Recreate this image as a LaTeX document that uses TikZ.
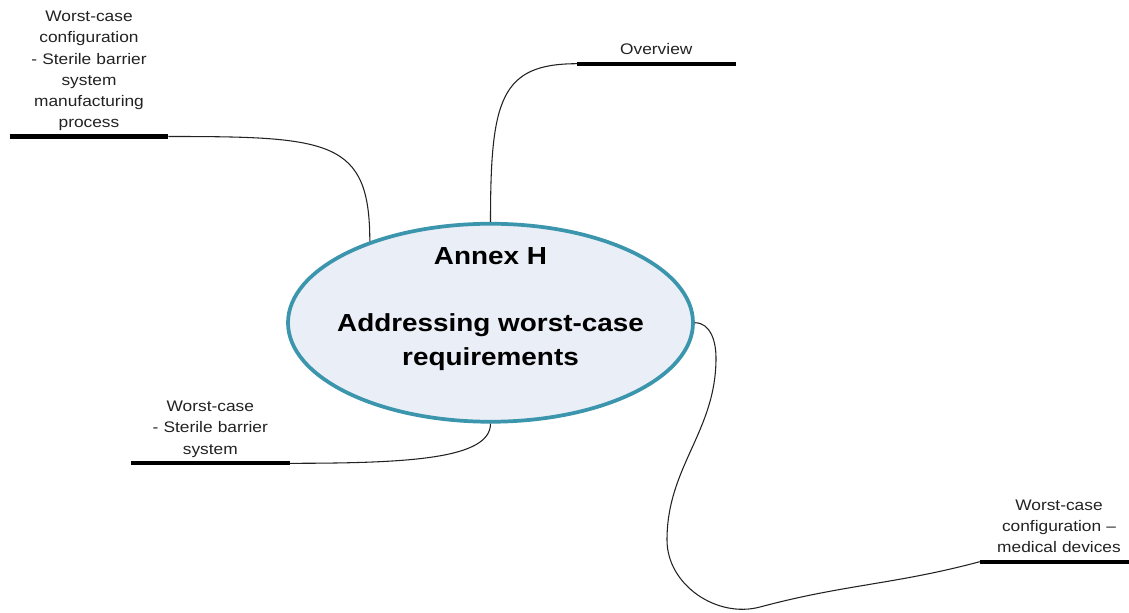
\documentclass[tikz,border=0pt]{standalone}
\usepackage{fontspec}
\usepackage{xcolor}
\usetikzlibrary{shapes.geometric}
\newfontfamily\mapfont{Liberation Sans}[FakeStretch=1.13]
\definecolor{dTeal}{HTML}{3A95AD}
\definecolor{dFill}{HTML}{E9EEF7}
\definecolor{dInk}{HTML}{222222}
\tikzset{
    hub/.style={
            ellipse,
            draw={#1},
            line width=2.8pt,
            fill=dFill,
            inner sep=0pt, % size from minimum only
            minimum width=303.75pt, % 405px across
            minimum height=148.5pt % 198px high
        },
    hub/.default={dTeal},
    leaf/.style={
            align=center,
            anchor=south,
            text width=118.5pt, % bar length
            inner xsep=0pt,
            inner ysep=2pt, % strut depth + this = baseline to bar
            execute at end node=\strut,
            text=dInk,
            font=\mapfont\fontsize{11.5}{15.8}\selectfont
        }
}
\tikzset{
    bar/.style={
            line width=3.2pt,
            black
        },
    link/.style={
            line width=0.8pt,
            {#1}
        },
    link/.default={dInk}
}

\begin{document}
\begin{tikzpicture}[
        x=0.75pt,
        y=0.75pt,
    ]
    \useasboundingbox (0,0) rectangle (1129,612);
    % centre ellipse
    \node[hub] (annex) at (490.5,289.25) {};
    \node[font=\mapfont\bfseries\fontsize{18.5}{25.3}\selectfont,
        align=center, inner sep=0pt]
    (title) at (490.5,303.3) {Annex H\\[25.3pt]Addressing worst-case\\requirements};
    % leaves
    \node[leaf] (overview) at (656.3,548.3) {Overview};
    \node[leaf] (cfgsbs) at (89,475.5)
    {Worst-case\\configuration\\- Sterile barrier\\system\\manufacturing\\process};
    \node[leaf] (sbs) at (210.3,148.7) {Worst-case\\- Sterile barrier\\system};
    \node[leaf] (devices) at (1059,50.3) {Worst-case\\configuration –\\medical devices};
    % bars under the leaves
    \draw[bar] (overview.south west) -- (overview.south east);
    \draw[bar] (cfgsbs.south west) -- (cfgsbs.south east);
    \draw[bar] (sbs.south west) -- (sbs.south east);
    \draw[bar] (devices.south west) -- (devices.south east);
    % links
    \draw[link] (annex.north)
    to[out=90,in=180,out looseness=1.73,in looseness=1.09] (overview.south west);
    \draw[link] (annex.146)
    to[out=90,in=0,out looseness=1.14,in looseness=1.82] (cfgsbs.south east);
    \draw[link] (annex.south)
    to[out=-90,in=0,out looseness=0.44,in looseness=1.5] (sbs.south east);
    \draw[link] (annex.east)
    to[out=0,in=90] (716,254)
    to[out=-90,in=90] (667,72)
    to[out=-90,in=195] (760,5)
    to[out=15,in=195] (devices.south west);
\end{tikzpicture}
\end{document}
